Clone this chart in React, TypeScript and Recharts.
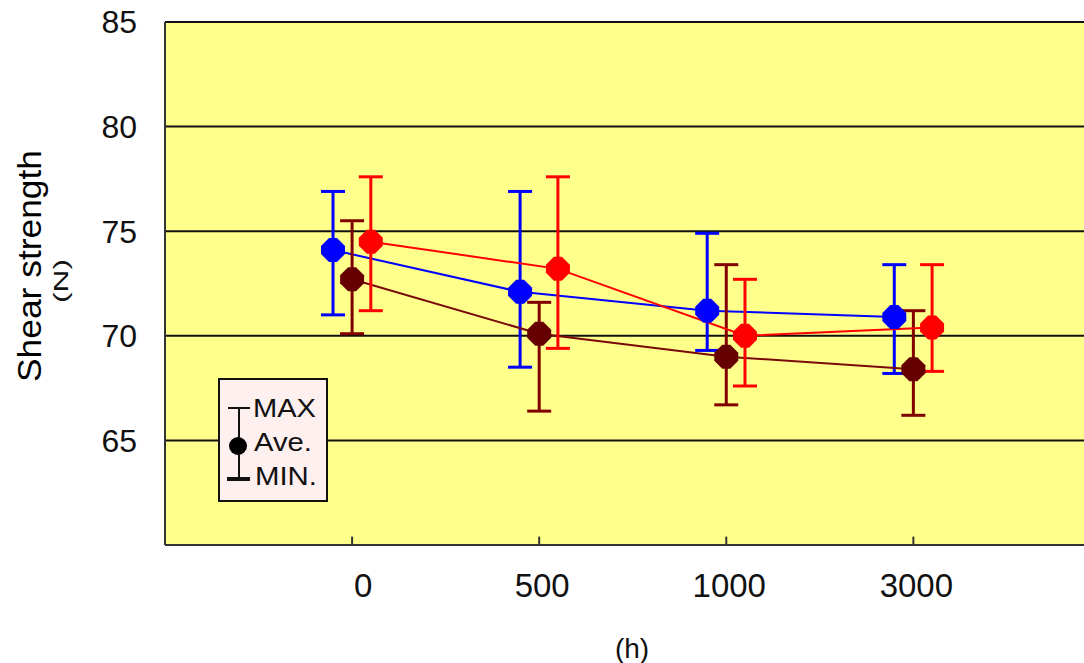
import React from 'react';
import { ComposedChart, Line, XAxis, YAxis, CartesianGrid, ErrorBar, ReferenceLine, Customized } from 'recharts';

const categories = ['0', '500', '1000', '3000'];

const blueAve = [74.1, 72.1, 71.2, 70.9];
const blueMax = [76.9, 76.9, 74.9, 73.4];
const blueMin = [71.0, 68.5, 69.3, 68.2];

const darkAve = [72.7, 70.1, 69.0, 68.4];
const darkMax = [75.5, 71.6, 73.4, 71.2];
const darkMin = [70.1, 66.4, 66.7, 66.2];

const redAve = [74.5, 73.2, 70.0, 70.4];
const redMax = [77.6, 77.6, 72.7, 73.4];
const redMin = [71.2, 69.4, 67.6, 68.3];

const yTicks = [65, 70, 75, 80, 85];

const FONT = '"Liberation Sans", Arial, sans-serif';

const build = (ave: number[], max: number[], min: number[], offset: number) =>
  categories.map((c, i) => ({
    x: i + offset,
    y: ave[i],
    err: [ave[i] - min[i], max[i] - ave[i]],
  }));

const blueData = build(blueAve, blueMax, blueMin, -0.102);
const darkData = build(darkAve, darkMax, darkMin, 0);
const redData = build(redAve, redMax, redMin, 0.1);

const Marker = (props: any) => {
  const { cx, cy, fill } = props;
  if (cx == null || cy == null) return null;
  const a = 12, b = 4;
  const d = `M${cx - a},${cy - b} L${cx - b},${cy - a} L${cx + b},${cy - a} L${cx + a},${cy - b} L${cx + a},${cy + b} L${cx + b},${cy + a} L${cx - b},${cy + a} L${cx - a},${cy + b} Z`;
  return <path d={d} fill={fill} stroke="none" />;
};

const XTick = (props: any) => {
  const { x, y, payload } = props;
  const label = categories[Math.round(payload.value)] ?? '';
  const dx = label === '0' ? 11 : 3;
  return (
    <text x={x + dx} y={y + 52} textAnchor="middle" fontSize={33} fontFamily={FONT} fill="#111">
      {label}
    </text>
  );
};

const Extras = () => (
  <g>
    <text
      transform="translate(41,266) rotate(-90)"
      textAnchor="middle"
      fontSize={33}
      fontFamily={FONT}
      fill="#000"
      textLength={232}
      lengthAdjust="spacingAndGlyphs"
    >
      Shear strength
    </text>
    <text
      transform="translate(68,281) rotate(-90)"
      textAnchor="middle"
      fontSize={20}
      fontFamily={FONT}
      fill="#111"
      textLength={44}
      lengthAdjust="spacingAndGlyphs"
    >
      (N)
    </text>
    <text x={632} y={658} textAnchor="middle" fontSize={28} fontFamily={FONT} fill="#111">
      (h)
    </text>
    <g>
      <rect x={219} y={379} width={108} height={122} fill="#fff0f0" stroke="#111" strokeWidth={2} />
      <line x1={239} y1={408} x2={239} y2={479} stroke="#111" strokeWidth={2} />
      <line x1={228} y1={408} x2={250} y2={408} stroke="#111" strokeWidth={2} />
      <line x1={227} y1={479} x2={250} y2={479} stroke="#111" strokeWidth={4} />
      <circle cx={238} cy={446} r={9} fill="#000" />
      <text x={253} y={417} fontSize={25} fontFamily={FONT} fill="#111" textLength={63} lengthAdjust="spacingAndGlyphs">MAX</text>
      <text x={254} y={451} fontSize={25} fontFamily={FONT} fill="#111" textLength={58} lengthAdjust="spacingAndGlyphs">Ave.</text>
      <text x={255} y={485} fontSize={25} fontFamily={FONT} fill="#111" textLength={62} lengthAdjust="spacingAndGlyphs">MIN.</text>
    </g>
  </g>
);

export default function App() {
  return (
    <div style={{ position: 'absolute', left: 0, top: 0, width: 1084, height: 663, background: '#fff' }}>
      <ComposedChart width={1084} height={663} margin={{ top: 22, right: 0, bottom: 0, left: 0 }}>
        <CartesianGrid horizontal vertical={false} fill="#ffff8c" stroke="#111" strokeWidth={2} fillOpacity={1} />
        <XAxis
          type="number"
          dataKey="x"
          domain={[-1, 3.912]}
          ticks={[0, 1, 2, 3]}
          allowDataOverflow
          height={118}
          tickSize={0}
          tickMargin={0}
          tick={<XTick />}
          axisLine={{ stroke: '#333', strokeWidth: 2 }}
          tickLine={false}
        />
        <YAxis
          type="number"
          domain={[60, 85]}
          ticks={yTicks}
          allowDataOverflow
          width={165}
          tickSize={0}
          tickMargin={28}
          tick={{ fontSize: 32, fontFamily: FONT, fill: '#111' }}
          axisLine={{ stroke: '#333', strokeWidth: 2 }}
          tickLine={false}
        />
        {categories.map((c, i) => (
          <ReferenceLine
            key={'t' + c}
            segment={[{ x: i, y: 60 }, { x: i, y: 60.4 }]}
            stroke="#333"
            strokeWidth={2}
          />
        ))}
        <Line
          data={blueData}
          dataKey="y"
          stroke="#0000ff"
          strokeWidth={2}
          isAnimationActive={false}
          dot={<Marker fill="#0000ff" />}
          activeDot={false}
        >
          <ErrorBar dataKey="err" direction="y" width={12} stroke="#0000ff" strokeWidth={3} />
        </Line>
        <Line
          data={darkData}
          dataKey="y"
          stroke="#7a0a0a"
          strokeWidth={2}
          isAnimationActive={false}
          dot={<Marker fill="#660000" />}
          activeDot={false}
        >
          <ErrorBar dataKey="err" direction="y" width={12} stroke="#800000" strokeWidth={3} />
        </Line>
        <Line
          data={redData}
          dataKey="y"
          stroke="#ff0000"
          strokeWidth={2}
          isAnimationActive={false}
          dot={<Marker fill="#ff0000" />}
          activeDot={false}
        >
          <ErrorBar dataKey="err" direction="y" width={12} stroke="#ff0000" strokeWidth={3} />
        </Line>
        <Customized component={Extras} />
      </ComposedChart>
    </div>
  );
}
